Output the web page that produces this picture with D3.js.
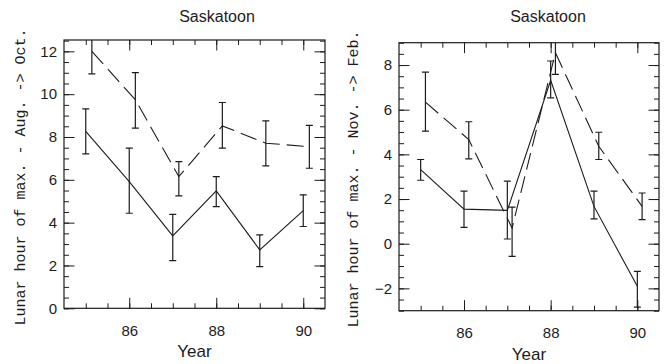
<!DOCTYPE html>
<html><head><meta charset="utf-8">
<script src="https://cdn.jsdelivr.net/npm/d3@7"></script>
<style>body{margin:0;background:#fff}svg{display:block}</style>
</head><body>
<svg id="c" width="667" height="364"></svg>
<script>
// ---- data ----
const titles = ["Saskatoon", "Saskatoon"];
const yLabels = ["Lunar hour of max. - Aug. -> Oct.", "Lunar hour of max. - Nov. -> Feb."];
const xLabel = "Year";
const years = [85, 86, 87, 88, 89, 90];
const yearsDashedL = [85.14, 86.14, 87.14, 88.14, 89.14, 90.14];
const yearsDashedR = [85.11, 86.11, 87.11, 88.11, 89.11, 90.11];

// Left panel (Aug -> Oct)
const augSolid   = [8.26, 5.92, 3.38, 5.48, 2.73, 4.56];
const augSolidLo = [7.21, 4.44, 2.23, 4.75, 1.95, 3.82];
const augSolidHi = [9.31, 7.48, 4.39, 6.15, 3.43, 5.30];
const augDash    = [12.0, 9.74, 6.15, 8.52, 7.71, 7.55];
const augDashLo  = [10.95, 8.41, 5.25, 7.48, 6.65, 6.54];
const augDashHi  = [13.0, 11.01, 6.85, 9.61, 8.75, 8.54];

// Right panel (Nov -> Feb)
const novSolid   = [3.32, 1.55, 1.49, 7.32, 1.67, -1.91];
const novSolidLo = [2.84, 0.73, 0.21, 6.53, 1.11, -2.84];
const novSolidHi = [3.77, 2.35, 2.80, 8.18, 2.35, -1.24];
const novDash    = [6.34, 4.66, 0.70, 8.55, 4.36, 1.67];
const novDashLo  = [5.04, 3.80, -0.57, 7.58, 3.77, 1.08];
const novDashHi  = [7.68, 5.46, 1.64, 9.6, 4.99, 2.27];

const xTicksMajor = [86, 88, 90];
const yTicksMajorL = [0, 2, 4, 6, 8, 10, 12];
const yTicksMajorR = [-2, 0, 2, 4, 6, 8];

// ---- drawing ----
const svg = d3.select("#c");
const ink = "#1c1c1c";

function series(xs, v, lo, hi) {
  return xs.map((x, i) => ({x, v: v[i], lo: lo[i], hi: hi[i]}));
}

const panels = [
  {id: "L", box: {l: 64, r: 325, t: 40, b: 308.3}, yDom: [0, 12.53], yMaj: yTicksMajorL,
   title: titles[0], titleX: 217, yLab: yLabels[0], yLabX: 20, yLabY: 177,
   solid: series(years, augSolid, augSolidLo, augSolidHi),
   dashed: series(yearsDashedL, augDash, augDashLo, augDashHi)},
  {id: "R", box: {l: 399, r: 659, t: 42.7, b: 310.7}, yDom: [-3, 9], yMaj: yTicksMajorR,
   title: titles[1], titleX: 548, yLab: yLabels[1], yLabX: 353, yLabY: 179,
   solid: series(years, novSolid, novSolidLo, novSolidHi),
   dashed: series(yearsDashedR, novDash, novDashLo, novDashHi)}
];

panels.forEach(p => {
  const B = p.box;
  const x = d3.scaleLinear().domain([84.5, 90.5]).range([B.l, B.r]);
  const y = d3.scaleLinear().domain(p.yDom).range([B.b, B.t]);
  const g = svg.append("g");

  const minorX = d3.range(85, 90.01, 0.5);
  const minorY = d3.range(Math.ceil(p.yDom[0] * 2) / 2, p.yDom[1] + 0.001, 0.5);

  const styleAxis = sel => {
    sel.select(".domain").remove();
    sel.selectAll(".tick line").attr("stroke", ink).attr("stroke-width", 1);
    sel.selectAll("text").attr("fill", ink).attr("font-family", "Liberation Sans, Arial, sans-serif").attr("font-size", 15);
  };
  // bottom
  g.append("g").attr("transform", `translate(0,${B.b})`)
    .call(d3.axisBottom(x).tickValues(minorX).tickSize(-5).tickFormat("")).call(styleAxis);
  g.append("g").attr("transform", `translate(0,${B.b})`)
    .call(d3.axisBottom(x).tickValues(xTicksMajor).tickSize(-10.5).tickPadding(17).tickFormat(d3.format("d"))).call(styleAxis);
  // top
  g.append("g").attr("transform", `translate(0,${B.t})`)
    .call(d3.axisTop(x).tickValues(minorX).tickSize(-5).tickFormat("")).call(styleAxis);
  g.append("g").attr("transform", `translate(0,${B.t})`)
    .call(d3.axisTop(x).tickValues(xTicksMajor).tickSize(-10.5).tickFormat("")).call(styleAxis);
  // left
  g.append("g").attr("transform", `translate(${B.l},0)`)
    .call(d3.axisLeft(y).tickValues(minorY).tickSize(-5).tickFormat("")).call(styleAxis);
  g.append("g").attr("transform", `translate(${B.l},0)`)
    .call(d3.axisLeft(y).tickValues(p.yMaj).tickSize(-10.5).tickPadding(7).tickFormat(d3.format("d"))).call(styleAxis);
  // right
  g.append("g").attr("transform", `translate(${B.r},0)`)
    .call(d3.axisRight(y).tickValues(minorY).tickSize(-5).tickFormat("")).call(styleAxis);
  g.append("g").attr("transform", `translate(${B.r},0)`)
    .call(d3.axisRight(y).tickValues(p.yMaj).tickSize(-10.5).tickFormat("")).call(styleAxis);

  // frame
  g.append("rect").attr("x", B.l).attr("y", B.t).attr("width", B.r - B.l).attr("height", B.b - B.t)
    .attr("fill", "none").attr("stroke", ink).attr("stroke-width", 1.2);

  // clip
  const cid = "clip" + p.id;
  svg.append("clipPath").attr("id", cid).append("rect")
    .attr("x", B.l).attr("y", B.t).attr("width", B.r - B.l).attr("height", B.b - B.t);
  const plot = g.append("g").attr("clip-path", `url(#${cid})`);

  const line = d3.line().x(d => x(d.x)).y(d => y(d.v));
  plot.append("path").datum(p.solid).attr("d", line)
    .attr("fill", "none").attr("stroke", ink).attr("stroke-width", 1.1);
  plot.append("path").datum(p.dashed).attr("d", line)
    .attr("fill", "none").attr("stroke", ink).attr("stroke-width", 1.1).attr("stroke-dasharray", "17,7");

  [p.solid, p.dashed].forEach(s => {
    const eb = plot.append("g").selectAll("g").data(s).join("g");
    eb.append("line").attr("x1", d => x(d.x)).attr("x2", d => x(d.x))
      .attr("y1", d => y(d.lo)).attr("y2", d => y(d.hi)).attr("stroke", ink).attr("stroke-width", 1.2);
    eb.append("line").attr("x1", d => x(d.x) - 3.5).attr("x2", d => x(d.x) + 3.5)
      .attr("y1", d => y(d.lo)).attr("y2", d => y(d.lo)).attr("stroke", ink).attr("stroke-width", 1.2);
    eb.append("line").attr("x1", d => x(d.x) - 3.5).attr("x2", d => x(d.x) + 3.5)
      .attr("y1", d => y(d.hi)).attr("y2", d => y(d.hi)).attr("stroke", ink).attr("stroke-width", 1.2);
  });

  // title
  svg.append("text").attr("x", p.titleX).attr("y", 22).attr("text-anchor", "middle")
    .attr("font-family", "Liberation Sans, Arial, sans-serif").attr("font-size", 16).attr("fill", ink).text(p.title);
  // x label
  svg.append("text").attr("x", (B.l + B.r) / 2).attr("y", B.b + 49).attr("text-anchor", "middle")
    .attr("font-family", "Liberation Sans, Arial, sans-serif").attr("font-size", 17).attr("fill", ink).text(xLabel);
  // y label
  svg.append("text").attr("transform", `translate(${p.yLabX},${p.yLabY}) rotate(-90)`)
    .attr("text-anchor", "middle").attr("dy", "0.35em")
    .attr("font-family", "Liberation Mono, Courier New, monospace").attr("font-size", 15).attr("fill", ink).text(p.yLab);
});
</script>
</body></html>
